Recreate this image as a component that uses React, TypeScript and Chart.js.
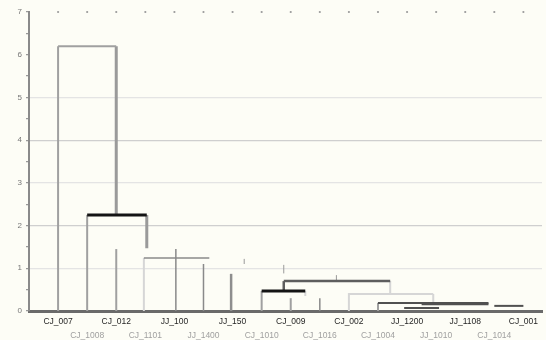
import React, { useEffect, useRef } from "react";
import { Chart, registerables } from "chart.js";

Chart.register(...registerables);

// Leaves of the tree diagram, left to right
const leafLabels = [
  "CJ_007", "CJ_1008", "CJ_012", "CJ_1101", "JJ_100", "JJ_1400", "JJ_150", "CJ_1010",
  "CJ_009", "CJ_1016", "CJ_002", "CJ_1004", "JJ_1200", "JJ_1010", "JJ_1108", "CJ_1014", "CJ_001",
];

// Linkage distance ticks
const yTicks = [0, 1, 2, 3, 4, 5, 6, 7];

// Tree segments: [leafFrom, distFrom, leafTo, distTo]
const segments: [number, number, number, number][] = [
  [0, 0, 0, 6.2],
  [0, 6.2, 2, 6.2],
  [2, 6.2, 2, 2.25],
  [1, 0, 1, 2.25],
  [1, 2.25, 3.05, 2.25],
  [2, 0, 2, 1.45],
  [3.05, 2.25, 3.05, 1.47],
  [2.95, 0, 2.95, 1.24],
  [2.95, 1.24, 5.2, 1.24],
  [4.05, 0, 4.05, 1.45],
  [5, 0, 5, 1.1],
  [5.95, 0, 5.95, 0.87],
  [6.4, 1.1, 6.4, 1.22],
  [7, 0, 7, 0.47],
  [7, 0.47, 8.5, 0.47],
  [8, 0, 8, 0.3],
  [9, 0, 9, 0.3],
  [10, 0, 10, 0.42],
  [8.5, 0.47, 8.5, 0.35],
  [7.76, 0.47, 7.76, 0.7],
  [7.76, 0.88, 7.76, 1.08],
  [7.76, 0.7, 11.42, 0.7],
  [9.57, 0.7, 9.57, 0.84],
  [11.42, 0.7, 11.42, 0.42],
  [10, 0.4, 12.9, 0.4],
  [12.9, 0.4, 12.9, 0.21],
  [11, 0, 11, 0.19],
  [11, 0.19, 14.8, 0.19],
  [12.5, 0.16, 14.8, 0.16],
  [15, 0.12, 16, 0.12],
  [11.9, 0.07, 13.1, 0.07],
];

// Style key per segment (same order as segments)
const segmentKinds = [
  "mid", "mid", "midThick", "mid", "black", "mid", "midThick", "light", "thin", "thin",
  "thin", "midWide", "tick", "mid", "black", "mid", "thin", "light", "light", "dark",
  "tick", "dark", "tick", "light", "light", "light", "mid", "dark2", "dark2", "dark2", "dark2",
];

const STYLES: Record<string, { color: string; width: number; order: number }> = {
  black: { color: "#141414", width: 3, order: 0 },
  dark: { color: "#5e5e5e", width: 2.5, order: 1 },
  dark2: { color: "#505050", width: 2, order: 1 },
  mid: { color: "#a0a0a0", width: 2, order: 2 },
  midThick: { color: "#9a9a9a", width: 3, order: 2 },
  midWide: { color: "#8e8e8e", width: 2.5, order: 2 },
  thin: { color: "#8a8a8a", width: 1.5, order: 2 },
  tick: { color: "#9a9a9a", width: 1, order: 2 },
  light: { color: "#d6d6d6", width: 2, order: 3 },
};

export default function App() {
  const ref = useRef<HTMLCanvasElement | null>(null);

  useEffect(() => {
    document.body.style.margin = "0";
    document.body.style.background = "#fdfdf6";
    if (!ref.current) return;

    const datasets: any[] = segments.map((s, i) => {
      const st = STYLES[segmentKinds[i]];
      return {
        type: "line",
        data: [
          { x: s[0], y: s[1] },
          { x: s[2], y: s[3] },
        ],
        borderColor: st.color,
        borderWidth: st.width,
        borderCapStyle: "butt",
        pointRadius: 0,
        fill: false,
        order: st.order,
        clip: 4,
      };
    });

    datasets.push({
      type: "line",
      data: leafLabels.map((_, i) => ({ x: i, y: yTicks[yTicks.length - 1] })),
      showLine: false,
      pointRadius: 1.1,
      pointBorderWidth: 0,
      pointBackgroundColor: "#9a9a9a",
      order: 5,
      clip: false,
    });

    const chart = new Chart(ref.current, {
      type: "line",
      data: { datasets },
      options: {
        animation: false,
        responsive: true,
        maintainAspectRatio: false,
        layout: { padding: { top: 12, right: 0, left: 0, bottom: 0 } },
        plugins: { legend: { display: false }, tooltip: { enabled: false } },
        scales: {
          x: {
            type: "linear",
            min: -1,
            max: 16.64,
            afterBuildTicks: (axis: any) => {
              axis.ticks = leafLabels.map((_, i) => ({ value: i }));
            },
            afterFit: (s: any) => {
              s.height = 29;
            },
            grid: { drawOnChartArea: false, drawTicks: false, color: "transparent" },
            border: { display: true, color: "#6a6a6a", width: 3 },
            ticks: {
              autoSkip: false,
              maxRotation: 0,
              minRotation: 0,
              padding: 4,
              font: { family: "Liberation Sans", size: 8.5, lineHeight: 1.6 },
              color: (ctx: any) => (ctx.index % 2 === 0 ? "#262626" : "#a0a0a0"),
              callback: (v: any) => {
                const i = Math.round(Number(v));
                const lab = leafLabels[i] ?? "";
                return i % 2 === 0 ? [lab, " "] : [" ", lab];
              },
            },
          },
          y: {
            type: "linear",
            min: yTicks[0],
            max: yTicks[yTicks.length - 1],
            afterFit: (s: any) => {
              s.width = 29;
            },
            ticks: {
              stepSize: 0.5,
              padding: 4,
              font: { family: "Liberation Sans", size: 8 },
              color: "#777",
              callback: (v: any) => (Number.isInteger(Number(v)) && yTicks.includes(Number(v)) ? String(v) : ""),
            },
            grid: {
              tickLength: 3,
              tickColor: "#999",
              lineWidth: 1.2,
              color: (ctx: any) => {
                const v = ctx.tick?.value;
                if (v === 2 || v === 4) return "#cfcfcf";
                if (v === 1 || v === 3 || v === 5) return "#e4e4e4";
                return "transparent";
              },
            },
            border: { display: true, color: "#8a8a8a", width: 2 },
          },
        },
      },
    });
    return () => chart.destroy();
  }, []);

  return (
    <div style={{ width: 546, height: 340, position: "relative" }}>
      <canvas ref={ref} />
    </div>
  );
}
